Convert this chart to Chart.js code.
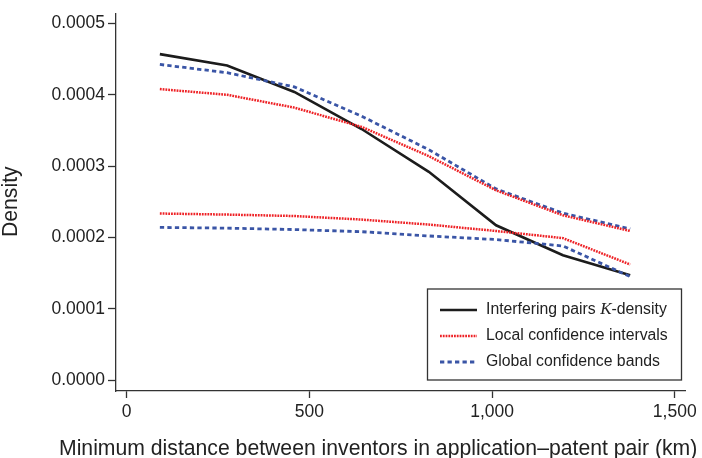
<!DOCTYPE html>
<html>
<head>
<meta charset="utf-8">
<script src="https://cdn.jsdelivr.net/npm/chart.js@4.4.1/dist/chart.umd.min.js"></script>
<style>
    html, body { margin: 0; padding: 0; background: #fff; }
    #wrap { width: 702px; height: 458px; }
</style>
</head>
<body>
<div id="wrap"><canvas id="kdChart" width="702" height="458"></canvas></div>
<script>
// distances (km) where the curves are evaluated
const distances = [91, 275, 459, 643, 827, 1011, 1194, 1378];

// series values
const kDensity    = [0.000457, 0.000441, 0.000404, 0.000352, 0.000292, 0.000217, 0.000175, 0.000147];
const localUpper  = [0.000408, 0.000400, 0.000382, 0.000355, 0.000314, 0.000266, 0.000231, 0.000209];
const localLower  = [0.0002335, 0.000232, 0.000230, 0.000225, 0.000218, 0.000209, 0.000199, 0.000162];
const globalUpper = [0.0004425, 0.000431, 0.000411, 0.000370, 0.000323, 0.000268, 0.000234, 0.000212];
const globalLower = [0.000214, 0.000213, 0.000211, 0.000208, 0.000202, 0.000197, 0.000188, 0.000145];

// tick labels
const xTicks = [0, 500, 1000, 1500];
const yTicks = [0, 0.0001, 0.0002, 0.0003, 0.0004, 0.0005];

const legendLabels = ['Interfering pairs K-density', 'Local confidence intervals', 'Global confidence bands'];
const xTitle = 'Minimum distance between inventors in application\u2013patent pair (km)';
const yTitle = 'Density';

const BLACK = '#1c1c1c';
const RED = '#ee2226';
const BLUE = '#3a55a6';
const AXIS = '#333333';
const FONT = '"Liberation Sans", Arial, Helvetica, sans-serif';

const toPoints = (ys) => distances.map((d, i) => ({ x: d, y: ys[i] }));

const lineStyles = {
    solid:  { borderColor: BLACK, borderWidth: 2.6, borderDash: [] },
    dotted: { borderColor: RED,   borderWidth: 2.5, borderDash: [1.8, 1.0] },
    dashed: { borderColor: BLUE,  borderWidth: 2.8, borderDash: [4.3, 3.2] }
};

function makeSet(label, values, style) {
    return Object.assign({
        label: label,
        data: toPoints(values),
        pointRadius: 0,
        tension: 0,
        fill: false
    }, lineStyles[style]);
}

// draws axis titles and the boxed legend
const decorations = {
    id: 'decorations',
    afterDraw(chart) {
        const ctx = chart.ctx;
        ctx.save();
        ctx.fillStyle = '#222';

        // x title
        ctx.font = '21.2px ' + FONT;
        ctx.textAlign = 'left';
        ctx.textBaseline = 'alphabetic';
        ctx.fillText(xTitle, 59, 455);

        // y title
        ctx.save();
        ctx.translate(17, 237);
        ctx.rotate(-Math.PI / 2);
        ctx.fillText(yTitle, 0, 0);
        ctx.restore();

        // legend box
        const box = { x: 427.5, y: 289, w: 254, h: 91 };
        ctx.strokeStyle = AXIS;
        ctx.lineWidth = 1.3;
        ctx.setLineDash([]);
        ctx.strokeRect(box.x, box.y, box.w, box.h);

        const rows = [310, 336, 362];
        const styles = ['solid', 'dotted', 'dashed'];
        rows.forEach((y, i) => {
            const st = lineStyles[styles[i]];
            ctx.beginPath();
            ctx.strokeStyle = st.borderColor;
            ctx.lineWidth = st.borderWidth;
            ctx.setLineDash(st.borderDash);
            ctx.moveTo(440, y);
            ctx.lineTo(477, y);
            ctx.stroke();
        });
        ctx.setLineDash([]);

        ctx.fillStyle = '#222';
        ctx.textBaseline = 'middle';
        ctx.font = '15.8px ' + FONT;
        // first entry has an italic serif K
        const parts = legendLabels[0].split('K');
        let tx = 486;
        ctx.fillText(parts[0], tx, rows[0]);
        tx += ctx.measureText(parts[0]).width;
        ctx.font = 'italic 17px "Liberation Serif", "Times New Roman", serif';
        ctx.fillText('K', tx, rows[0]);
        tx += ctx.measureText('K').width;
        ctx.font = '15.8px ' + FONT;
        ctx.fillText(parts[1], tx, rows[0]);

        ctx.fillText(legendLabels[1], 486, rows[1]);
        ctx.fillText(legendLabels[2], 486, rows[2]);
        ctx.restore();
    }
};

const ctx = document.getElementById('kdChart').getContext('2d');
new Chart(ctx, {
    type: 'line',
    data: {
        datasets: [
            makeSet('Local upper', localUpper, 'dotted'),
            makeSet('Local lower', localLower, 'dotted'),
            makeSet('Global upper', globalUpper, 'dashed'),
            makeSet('Global lower', globalLower, 'dashed'),
            makeSet('K-density', kDensity, 'solid')
        ]
    },
    options: {
        responsive: false,
        animation: false,
        devicePixelRatio: 1,
        layout: { padding: { top: 12.7, right: 17, left: 0, bottom: 0 } },
        plugins: {
            legend: { display: false },
            tooltip: { enabled: false }
        },
        scales: {
            x: {
                type: 'linear',
                min: -29,
                max: 1528,
                afterFit: (scale) => { scale.height = 67; },
                afterBuildTicks: (scale) => { scale.ticks = xTicks.map(v => ({ value: v })); },
                ticks: {
                    color: '#222',
                    font: { family: FONT, size: 17.5 },
                    padding: 4,
                    maxRotation: 0,
                    callback: (v) => v.toLocaleString('en-US')
                },
                grid: {
                    drawOnChartArea: false,
                    drawTicks: true,
                    tickLength: 7,
                    tickWidth: 1.3,
                    tickColor: AXIS
                },
                border: { display: true, color: AXIS, width: 1.3 }
            },
            y: {
                min: -0.0000154,
                max: 0.000514,
                afterFit: (scale) => { scale.width = 116; },
                afterBuildTicks: (scale) => { scale.ticks = yTicks.map(v => ({ value: v })); },
                ticks: {
                    color: '#222',
                    font: { family: FONT, size: 17.5 },
                    padding: 3,
                    callback: (v) => v.toFixed(4)
                },
                grid: {
                    drawOnChartArea: false,
                    drawTicks: true,
                    tickLength: 8,
                    tickWidth: 1.3,
                    tickColor: AXIS
                },
                border: { display: true, color: AXIS, width: 1.3 }
            }
        }
    },
    plugins: [decorations]
});
</script>
</body>
</html>
